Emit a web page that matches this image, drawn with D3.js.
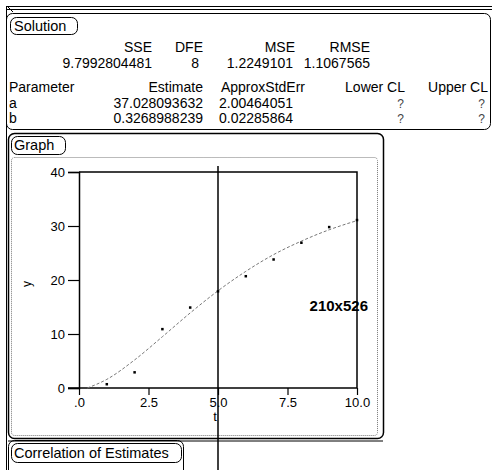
<!DOCTYPE html>
<html>
<head>
<meta charset="utf-8">
<script src="https://cdn.jsdelivr.net/npm/d3@7"></script>
<style>
  html, body { margin: 0; padding: 0; background: #fff; }
  svg { display: block; font-family: "Liberation Sans", Arial, sans-serif; }
</style>
</head>
<body>
<svg id="chart" width="492" height="470"></svg>
<script>
// ---- data ----
const solutionHeaders = ["SSE", "DFE", "MSE", "RMSE"];
const solutionValues = ["9.7992804481", "8", "1.2249101", "1.1067565"];
const paramHeaders = ["Parameter", "Estimate", "ApproxStdErr", "Lower CL", "Upper CL"];
const paramNames = ["a", "b"];
const paramEstimates = ["37.028093632", "0.3268988239"];
const paramStdErr = ["2.00464051", "0.02285864"];
const paramLower = ["?", "?"];
const paramUpper = ["?", "?"];

const obsT = [1, 2, 3, 4, 5, 6, 7, 8, 9, 10];
const obsY = [0.7, 2.9, 10.9, 14.9, 17.9, 20.7, 23.8, 26.9, 29.8, 31.1];
const fitT = [0.3, 1, 2, 3, 4, 5, 6, 7, 8, 9, 10];
const fitY = [0, 1.6, 5.2, 9.5, 13.9, 18.0, 21.6, 24.7, 27.2, 29.3, 31.0];

const xTicks = [0, 2.5, 5, 7.5, 10];
const xTickLabels = [".0", "2.5", "5.0", "7.5", "10.0"];
const yTicks = [0, 10, 20, 30, 40];
const yTickLabels = ["0", "10", "20", "30", "40"];
const cursorT = 5;
const sizeNote = "210x526";

// ---- drawing ----
const svg = d3.select("#chart");

// window chrome / outer borders
svg.append("path").attr("d", "M7,6.5 L492,6.5 M7,9.5 L492,9.5 M6.5,6 L6.5,470 M7,6 L13,12")
  .attr("stroke", "#000").attr("fill", "none").attr("stroke-width", 1);

function roundBox(x0, y0, x1, y1, r, opts = {}) {
  return svg.append("rect").attr("x", x0 + 0.5).attr("y", y0 + 0.5)
    .attr("width", x1 - x0).attr("height", y1 - y0).attr("rx", r)
    .attr("fill", "none").attr("stroke", opts.stroke || "#000")
    .attr("stroke-width", opts.sw || 1)
    .attr("stroke-dasharray", opts.dash || null);
}
function label(x, y, txt, anchor = "start", size = 14, weight = "normal") {
  return svg.append("text").attr("x", x).attr("y", y).attr("text-anchor", anchor)
    .attr("font-size", size).attr("font-weight", weight).attr("fill", "#000").text(txt);
}

// Solution panel
roundBox(6, 13, 490, 129, 6);
roundBox(10, 17, 77, 34, 6);
label(14, 31, "Solution", "start", 14.5);

const solHeadRight = [152, 203, 295, 370];
const solValRight = [152, 199, 293, 370];
solutionHeaders.forEach((h, i) => label(solHeadRight[i], 52, h, "end"));
solutionValues.forEach((v, i) => label(solValRight[i], 68, v, "end"));

const parRight = [null, 203, 305, 405, 488];
paramHeaders.forEach((h, i) => {
  if (i === 0) label(9, 92, h, "start");
  else label(parRight[i], 92, h, "end");
});
const valRight = [null, 203, 293, 404, 485];
paramNames.forEach((n, r) => {
  const yy = 107.5 + r * 15;
  label(9, yy, n, "start");
  label(valRight[1], yy, paramEstimates[r], "end");
  label(valRight[2], yy, paramStdErr[r], "end");
  label(valRight[3], yy, paramLower[r], "end", 12).attr("fill", "#444");
  label(valRight[4], yy, paramUpper[r], "end", 12).attr("fill", "#444");
});

// Graph panel
roundBox(8, 133, 383, 438, 6, { sw: 1.5 });
roundBox(11, 157, 377, 435, 3, { stroke: "#777", dash: "1,1" });
roundBox(11, 136, 65, 154, 6);
label(14, 150, "Graph", "start", 14.5);
svg.append("path").attr("d", "M8,441 L383,441").attr("stroke", "#000");

// Correlation panel
roundBox(8, 440, 183, 480, 6);
roundBox(11, 443, 181, 462, 6);
label(14, 458, "Correlation of Estimates", "start", 14.5);

// plot
const x = d3.scaleLinear().domain([0, 10]).range([79, 357]);
const y = d3.scaleLinear().domain([0, 40]).range([388, 172]);

// frame top + right
svg.append("path")
  .attr("d", `M${x(0)},${y(40)} L${x(10)},${y(40)} L${x(10)},${y(0)}`)
  .attr("stroke", "#000").attr("fill", "none").attr("stroke-width", 1.5);

const yAxis = svg.append("g").attr("transform", `translate(${x(0)},0)`)
  .call(d3.axisLeft(y).tickValues(yTicks).tickSize(11).tickPadding(3)
    .tickFormat((d, i) => yTickLabels[i]));
const xAxis = svg.append("g").attr("transform", `translate(0,${y(0)})`)
  .call(d3.axisBottom(x).tickValues(xTicks).tickSize(7).tickPadding(3)
    .tickFormat((d, i) => xTickLabels[i]));
[yAxis, xAxis].forEach(g => {
  g.select(".domain").attr("stroke-width", 1.5);
  g.selectAll(".tick line").attr("stroke-width", 1.2);
  g.selectAll("text").attr("font-size", 13).attr("font-family", "Liberation Sans, Arial, sans-serif").attr("fill", "#000");
});
xAxis.select(".domain").attr("d", `M${x(0) - 11},0H${x(10)}`);

label(x(5) - 3, 421, "t", "middle", 13);
svg.append("text").attr("transform", `translate(31,284) rotate(-90)`)
  .attr("text-anchor", "middle").attr("font-size", 12).text("y");

// fitted curve
const line = d3.line().x((d, i) => x(fitT[i])).y(d => y(d)).curve(d3.curveMonotoneX);
svg.append("path").datum(fitY).attr("d", line)
  .attr("fill", "none").attr("stroke", "#777").attr("stroke-width", 1)
  .attr("stroke-dasharray", "3,2");

// observed points
svg.append("g").selectAll("rect").data(obsY).join("rect")
  .attr("x", (d, i) => x(obsT[i]) - 1.25).attr("y", d => y(d) - 1.25)
  .attr("width", 2.5).attr("height", 2.5).attr("fill", "#000");

// cursor line
svg.append("line").attr("x1", x(cursorT)).attr("x2", x(cursorT))
  .attr("y1", 166).attr("y2", 470).attr("stroke", "#000").attr("stroke-width", 1.5);

label(368, 311, sizeNote, "end", 15, "bold");
</script>
</body>
</html>
